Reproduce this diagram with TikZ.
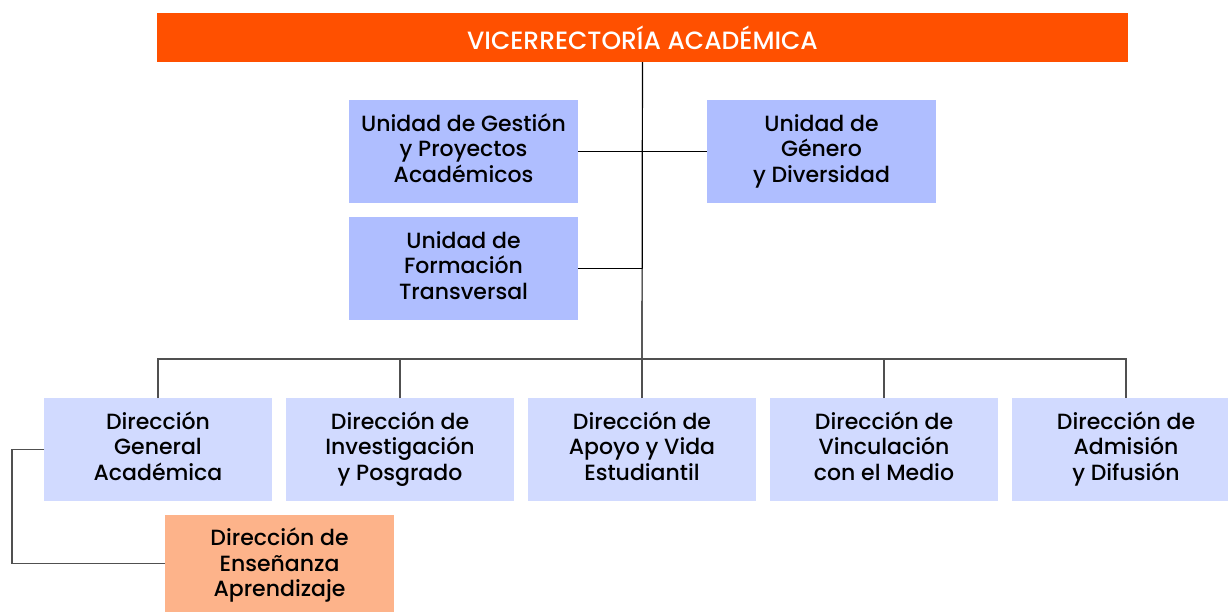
\documentclass[tikz,border=0pt]{standalone}
\usepackage{fontspec}
\setmainfont{Poppins}[UprightFont=* Medium]
\usetikzlibrary{positioning}

\definecolor{vraorange}{HTML}{FF5000}
\definecolor{unidadblue}{HTML}{AFBEFF}
\definecolor{direcblue}{HTML}{D1DAFF}
\definecolor{deapeach}{HTML}{FDB38A}
\definecolor{busgrey}{HTML}{505050}

\begin{document}
\begin{tikzpicture}[x=1pt,y=-1pt,node distance=14pt,line width=1.2pt,
  box/.style={inner sep=0pt,outer sep=0pt,align=center,minimum width=229pt,minimum height=103pt,
    text height=71pt,text depth=10pt,font=\fontsize{22}{25.5}\selectfont},
  unidad/.style={box,fill=unidadblue},
  direccion/.style={box,fill=direcblue,minimum width=228pt},
  apoyo/.style={box,fill=deapeach,minimum height=97pt,text depth=5pt}]
 \useasboundingbox (0,0) rectangle (1228,613);
 \clip (0,0) rectangle (1228,613);

 \node[fill=vraorange,text=white,minimum width=971pt,minimum height=49pt,inner sep=0pt,
       outer sep=0pt,font=\fontsize{25}{27}\selectfont]
              (vra) at (642.5,37.5) {VICERRECTORÍA ACADÉMICA};
 \node[unidad] (ugp) at (463.5,151.5) {Unidad de Gestión\\y Proyectos\\Académicos};
 \node[unidad] (ugd) at (821.5,151.5) {Unidad de\\Género\\y Diversidad};
 \node[unidad] (uft) [below=of ugp] {Unidad de\\Formación\\Transversal};

 \node[direccion] (dga) at (158,449.5) {Dirección\\General\\Académica};
 \node[direccion] (dip) [right=of dga] {Dirección de\\Investigación\\y Posgrado};
 \node[direccion] (dav) [right=of dip] {Dirección de\\Apoyo y Vida\\Estudiantil};
 \node[direccion] (dvm) [right=of dav] {Dirección de\\Vinculación\\con el Medio};
 \node[direccion] (dad) [right=of dvm] {Dirección de\\Admisión\\y Difusión};
 \node[apoyo] (dea) at (279.5,563.5) {Dirección de\\Enseñanza\\Aprendizaje};

 \coordinate (bus) at (642,359);

 \draw (vra) -- (bus);
 \draw (ugp.east) -- (ugd.west);
 \draw (uft.east) -- (uft.east -| bus);

 \draw[busgrey] (dga.north) |- (bus) -| (dad.north);
 \draw[busgrey] (dip.north) -- (dip.north |- bus);
 \draw[busgrey] (dav.north) -- (dav.north |- bus);
 \draw[busgrey] (dvm.north) -- (dvm.north |- bus);
 \draw[busgrey] (dga.west) -- ++(-32,0) |- (dea.west);
\end{tikzpicture}
\end{document}
